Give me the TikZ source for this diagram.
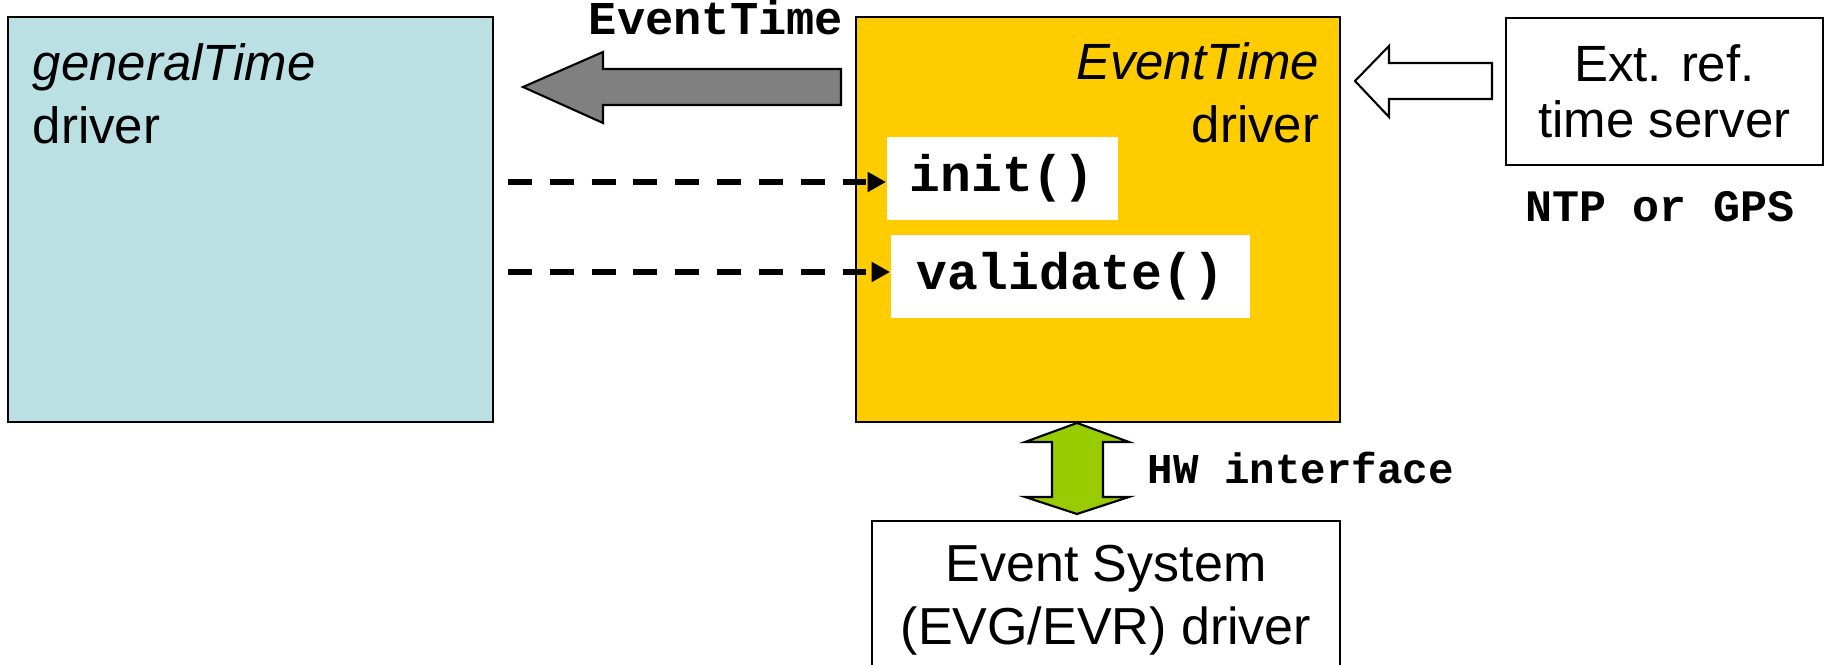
\documentclass[tikz,border=0pt]{standalone}
\usepackage{fontspec}
\setmainfont{Liberation Sans}
\setmonofont{Liberation Mono}
\usepackage{tikz}
\usetikzlibrary{arrows.meta,positioning}
\definecolor{genblue}{HTML}{BBE0E3}
\definecolor{evtyellow}{HTML}{FFCC00}
\definecolor{hwgreen}{HTML}{99CC00}
\definecolor{blockgray}{HTML}{808080}

\begin{document}
\begin{tikzpicture}[
  box/.style={draw, line width=0.6pt, inner sep=0pt, outer sep=0pt, anchor=north west},
  txt/.style={font=\fontsize{14.5}{17.9}\selectfont, inner sep=0pt},
  code/.style={font=\ttfamily\bfseries\fontsize{#1}{#1}\selectfont, inner sep=0pt},
  call/.style={code=14.6, fill=white, minimum height=0.83cm, anchor=north west},
  blockarr/.style={draw, line width=0.6pt, line join=miter},
  dasharr/.style={-{Triangle[length=5.2pt,width=5.4pt]}, line width=1.9pt,
    dash pattern=on 6.8pt off 5.1pt},
]
\useasboundingbox (0,0) rectangle (18.26,-6.65);

% --- generalTime driver ---
\node[box, fill=genblue, minimum width=4.85cm, minimum height=4.05cm] (gen) at (0.08,-0.17) {};
\node[txt, align=left, anchor=north west] (gentxt) at (0.32,-0.43) {\textit{generalTime}\\driver};

% --- EventTime driver ---
\node[box, fill=evtyellow, minimum width=4.84cm, minimum height=4.05cm] (evt) at (8.56,-0.17) {};
\node[txt, align=right, anchor=north east] (evttxt) at (13.20,-0.42) {\textit{EventTime}\\driver};
\node[call, minimum width=2.31cm] (init) at (8.86,-1.36) {init()};
\node[call, minimum width=3.59cm] (valid) at (8.90,-2.34) {validate()};

% calls from generalTime
\coordinate (s1) at (5.08,-1.82);
\coordinate (s2) at (5.08,-2.72);
\draw[dasharr] (s1) -- (s1 -| init.west);
\draw[dasharr] (s2) -- (s2 -| valid.west);

% --- EventTime block arrow ---
\draw[blockarr, fill=blockgray] (5.23,-0.87) -- (6.03,-0.52) -- (6.03,-0.69) -- (8.41,-0.69)
  -- (8.41,-1.05) -- (6.03,-1.05) -- (6.03,-1.23) -- cycle;
\node[code=13.4, anchor=base] (evlbl) at (7.16,-0.35) {EventTime};

% --- external reference ---
\node[box, align=center, font=\fontsize{14.5}{15.9}\selectfont,
  minimum width=3.17cm, minimum height=1.47cm] (ext) at (15.06,-0.18) {Ext. ref.\\time server};
\node[code=12.8, anchor=base] (ntp) at (16.60,-2.22) {NTP or GPS};
\draw[blockarr, fill=white] (13.55,-0.81) -- (13.89,-0.46) -- (13.89,-0.63) -- (14.92,-0.63)
  -- (14.92,-0.99) -- (13.89,-0.99) -- (13.89,-1.17) -- cycle;

% --- HW interface ---
\draw[blockarr, fill=hwgreen] (10.77,-4.23) -- (11.29,-4.42) -- (11.03,-4.42) -- (11.03,-4.97)
  -- (11.29,-4.97) -- (10.77,-5.14) -- (10.25,-4.97) -- (10.52,-4.97) -- (10.52,-4.42)
  -- (10.25,-4.42) -- cycle;
\node[code=12.1, anchor=base west] (hw) at (11.47,-4.84) {HW interface};

% --- Event System driver ---
\node[box, anchor=north, align=center, font=\fontsize{14.8}{17.9}\selectfont,
  minimum width=4.68cm, minimum height=1.59cm] (evs) at (11.06,-5.21) {Event System\\(EVG/EVR) driver};
\end{tikzpicture}
\end{document}
